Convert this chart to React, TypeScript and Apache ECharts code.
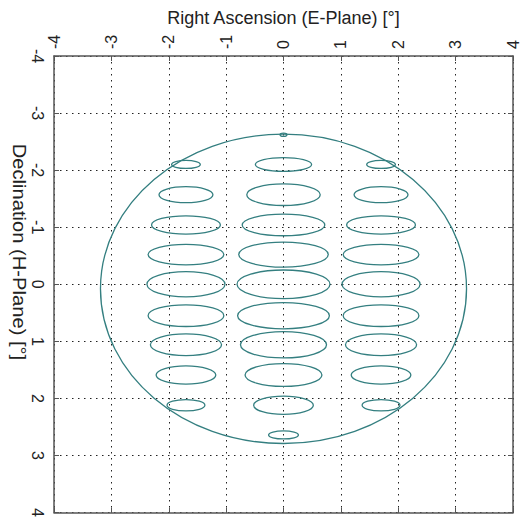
import React, { useEffect, useRef } from "react";
import * as echarts from "echarts";

// Axis ticks
const tickValues = [-4, -3, -2, -1, 0, 1, 2, 3, 4];

// Beam grid: column centres (Right Ascension) and row centres (Declination)
const columnX = [-1.7, 0, 1.7];
const rowY = [-2.1, -1.57, -1.04, -0.52, 0.0, 0.55, 1.06, 1.59, 2.12];

// Half-widths / half-heights of the middle column contours per row
const middleRx = [0.49, 0.64, 0.72, 0.78, 0.81, 0.8, 0.75, 0.67, 0.52];
const middleRy = [0.12, 0.19, 0.19, 0.22, 0.25, 0.23, 0.23, 0.2, 0.16];

// Half-widths / half-heights of the side column contours per row
const sideRx = [0.25, 0.47, 0.6, 0.66, 0.68, 0.66, 0.62, 0.52, 0.33];
const sideRy = [0.07, 0.14, 0.16, 0.18, 0.22, 0.19, 0.19, 0.16, 0.1];

// Extra small contours at top and bottom of middle column: [x, y, rx, ry]
const extraBeams = [
  [0, -2.62, 0.06, 0.03],
  [0, 2.64, 0.26, 0.07],
];

// Outer field-of-view contour: [x, y, rx, ry]
const outerContour = [[0, 0.08, 3.19, 2.71]];

const LINE = "#347f80";
const FONT = "Liberation Sans, Arial, sans-serif";

export default function App() {
  const ref = useRef<HTMLDivElement>(null);

  useEffect(() => {
    if (!ref.current) return;
    const chart = echarts.init(ref.current, undefined, { renderer: "svg" });

    const beams: number[][] = [];
    columnX.forEach((cx, ci) => {
      rowY.forEach((cy, ri) => {
        const isMiddle = ci === 1;
        beams.push([
          cx,
          cy,
          isMiddle ? middleRx[ri] : sideRx[ri],
          isMiddle ? middleRy[ri] : sideRy[ri],
        ]);
      });
    });
    extraBeams.forEach((b) => beams.push(b));

    const renderEllipse = (params: any, api: any) => {
      const c = api.coord([api.value(0), api.value(1)]);
      const s = api.size([api.value(2), api.value(3)]);
      return {
        type: "ellipse",
        shape: { cx: c[0], cy: c[1], rx: Math.abs(s[0]), ry: Math.abs(s[1]) },
        style: { fill: "none", stroke: LINE, lineWidth: 1.3 },
      };
    };

    const axisCommon = {
      type: "value" as const,
      min: -4,
      max: 4,
      interval: 1,
      axisLine: { show: true, onZero: false, lineStyle: { color: "#555", width: 1.5 } },
      axisTick: { show: true, inside: true, length: 5, lineStyle: { color: "#555" } },
    };

    chart.setOption({
      animation: false,
      backgroundColor: "#fff",
      grid: { left: 54, top: 56, right: 5, bottom: 1, containLabel: false },
      xAxis: [
        {
          ...axisCommon,
          position: "top",
          axisLabel: {
            show: true,
            rotate: -90,
            margin: 7,
            color: "#222",
            fontFamily: FONT,
            fontSize: 16,
            formatter: (v: number) => (tickValues.includes(v) ? String(v) : ""),
          },
          splitLine: { show: true, lineStyle: { color: "#222", type: [1.5, 4.5], width: 1 } },
          name: "Right Ascension (E-Plane) [°]",
          nameLocation: "middle",
          nameGap: 28,
          nameTextStyle: { color: "#222", fontFamily: FONT, fontSize: 18 },
        },
        {
          ...axisCommon,
          position: "bottom",
          axisLabel: { show: false },
          splitLine: { show: false },
        },
      ],
      yAxis: [
        {
          ...axisCommon,
          inverse: true,
          position: "left",
          axisLabel: {
            show: true,
            rotate: -90,
            margin: 9,
            color: "#222",
            fontFamily: FONT,
            fontSize: 16,
            formatter: (v: number) => (tickValues.includes(v) ? String(v) : ""),
          },
          splitLine: { show: true, lineStyle: { color: "#222", type: [1.5, 4.5], width: 1 } },
        },
        {
          ...axisCommon,
          inverse: true,
          position: "right",
          axisLabel: { show: false },
          splitLine: { show: false },
        },
      ],
      graphic: [
        {
          type: "text",
          x: 19,
          y: 252,
          rotation: -Math.PI / 2,
          scaleX: 1.12,
          style: {
            text: "Declination (H-Plane) [°]",
            fill: "#222",
            font: `18px ${FONT}`,
            align: "center",
            verticalAlign: "middle",
          },
        },
      ],
      series: [
        {
          type: "custom",
          name: "outer",
          xAxisIndex: 0,
          yAxisIndex: 0,
          renderItem: renderEllipse,
          data: outerContour,
          clip: true,
          silent: true,
        },
        {
          type: "custom",
          name: "beams",
          xAxisIndex: 0,
          yAxisIndex: 0,
          renderItem: renderEllipse,
          data: beams,
          clip: true,
          silent: true,
        },
      ],
    });

    return () => chart.dispose();
  }, []);

  return <div ref={ref} style={{ width: 521, height: 520, position: "absolute", left: 0, top: 0 }} />;
}
